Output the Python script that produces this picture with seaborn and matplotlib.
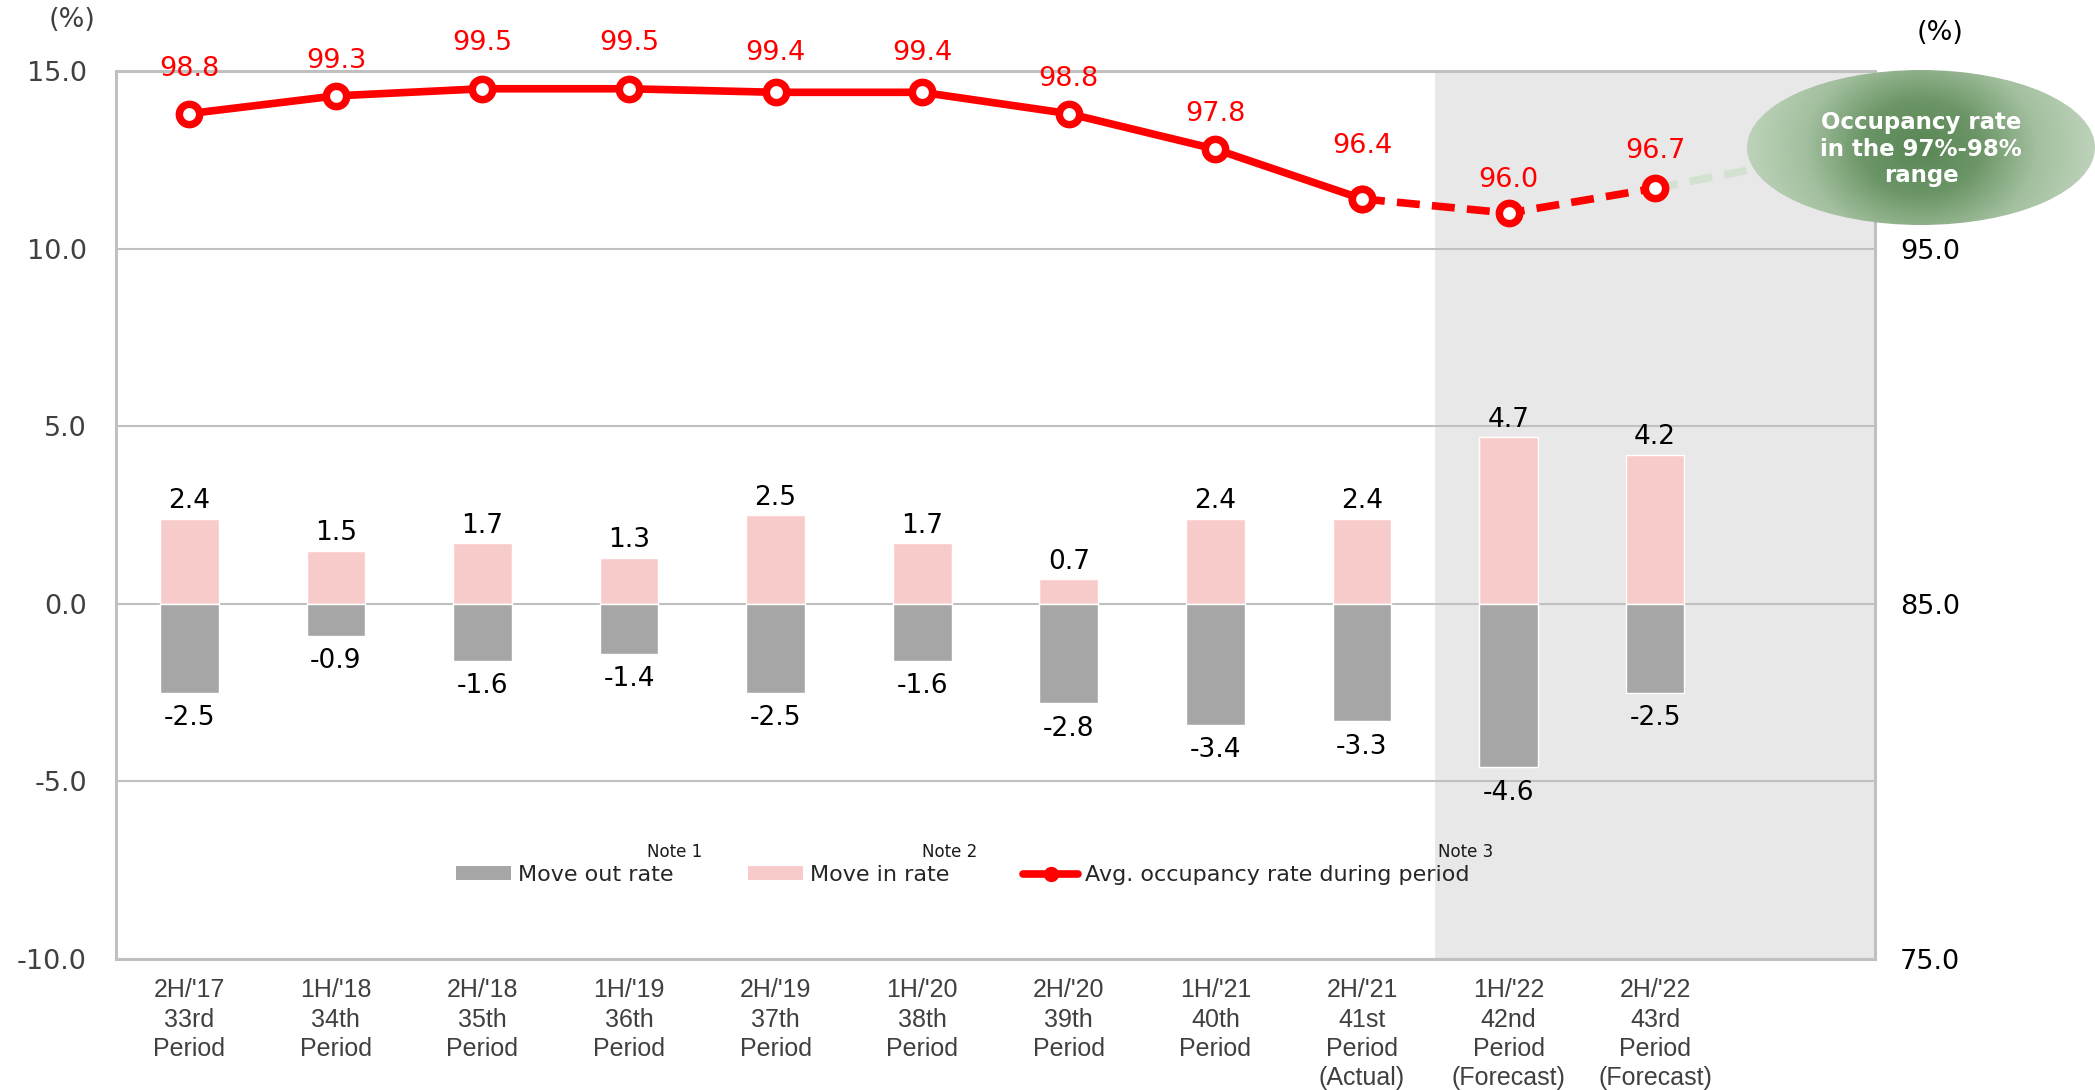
import numpy as np
import pandas as pd
import matplotlib
matplotlib.use('Agg')
import matplotlib.pyplot as plt
from matplotlib.patches import Ellipse, Patch
from matplotlib.lines import Line2D
from matplotlib.colors import LinearSegmentedColormap
import seaborn as sns

# ---------------- data ----------------
periods = ["2H/'17\n33rd\nPeriod", "1H/'18\n34th\nPeriod", "2H/'18\n35th\nPeriod",
           "1H/'19\n36th\nPeriod", "2H/'19\n37th\nPeriod", "1H/'20\n38th\nPeriod",
           "2H/'20\n39th\nPeriod", "1H/'21\n40th\nPeriod", "2H/'21\n41st\nPeriod\n(Actual)",
           "1H/'22\n42nd\nPeriod\n(Forecast)", "2H/'22\n43rd\nPeriod\n(Forecast)"]
move_in = [2.4, 1.5, 1.7, 1.3, 2.5, 1.7, 0.7, 2.4, 2.4, 4.7, 4.2]
move_out = [-2.5, -0.9, -1.6, -1.4, -2.5, -1.6, -2.8, -3.4, -3.3, -4.6, -2.5]
occupancy = [98.8, 99.3, 99.5, 99.5, 99.4, 99.4, 98.8, 97.8, 96.4, 96.0, 96.7]
target_rate = 97.5          # "97%-98% range" bubble
n_actual = 9                # periods up to 41st are actual
left_ticks = [-10, -5, 0, 5, 10, 15]
right_ticks = [75, 85, 95]
legend_labels = ["Move out rate", "Move in rate", "Avg. occupancy rate during period"]
note_labels = ["Note 1", "Note 2", "Note 3"]
bubble_text = "Occupancy rate\nin the 97%-98%\nrange"

# label placement (style): vertical offsets of occupancy labels, in points
label_offsets = [32, 25, 33, 33, 28, 28, 25, 25, 38, 24, 27]

# ---------------- style ----------------
sns.set_style('white')
plt.rcParams['font.family'] = ['DejaVu Sans']

RED = '#ff0000'
GRAY_BAR = '#a6a6a6'
PINK_BAR = '#f8cbcb'
GRID = '#c0c0c0'
SHADE = '#e8e8e8'

W, H = 2095, 1090
fig = plt.figure(figsize=(W / 100, H / 100), dpi=100)
ax = fig.add_axes([116 / W, 1 - 959 / H, (1875 - 116) / W, (959 - 71) / H])

df = pd.DataFrame({'period': periods, 'move_in': move_in, 'move_out': move_out,
                   'occ': occupancy})
df['x'] = np.arange(len(df))

sns.barplot(data=df, x='period', y='move_in', color=PINK_BAR, width=0.4, saturation=1,
            errorbar=None, ax=ax, zorder=2)
sns.barplot(data=df, x='period', y='move_out', color=GRAY_BAR, width=0.4, saturation=1,
            errorbar=None, ax=ax, zorder=2)

ax.axvspan(n_actual - 0.5, len(df) + 0.5, color=SHADE, lw=0, zorder=0)

ax.bar_label(ax.containers[0], fmt='%.1f', padding=3, fontsize=19, color='black')
ax.bar_label(ax.containers[1], fmt='%.1f', padding=9, fontsize=19, color='black')

ax.set_ylim(-10, 15)
ax.set_yticks(left_ticks)
ax.set_yticklabels([f'{t:.1f}' for t in left_ticks], fontsize=19.5, color='#404040')
ax.set_xlim(-0.5, len(df) + 0.5)
ax.set_xticks(np.arange(len(df)))
ax.set_xticklabels(periods, fontsize=18, color='#404040', family=['Liberation Sans', 'DejaVu Sans'],
                   linespacing=1.27, va='top')
ax.tick_params(axis='both', length=0)
ax.tick_params(axis='y', pad=21)
ax.tick_params(axis='x', pad=14)
ax.set_xlabel('')
ax.set_ylabel('')
ax.set_axisbelow(True)
ax.yaxis.grid(True, color=GRID, lw=1.5)
ax.xaxis.grid(False)
for s in ax.spines.values():
    s.set_visible(True)
    s.set_color(GRID)
    s.set_linewidth(2.2)

# ---------------- occupancy line (right axis) ----------------
ax2 = ax.twinx()
ax2.set_ylim(75, 100)
for s in ax2.spines.values():
    s.set_visible(False)

# connector to the bubble
conn = pd.DataFrame({'x': [df['x'].iloc[-1], len(df)], 'occ': [occupancy[-1], target_rate]})
sns.lineplot(data=conn, x='x', y='occ', ax=ax2, color='#d3e1d0', lw=5.5,
             linestyle=(0, (3, 1.6)), zorder=2)

actual = df.iloc[:n_actual]
forecast = df.iloc[n_actual - 1:]
mk = dict(marker='o', markersize=14.6, markerfacecolor='white', markeredgecolor=RED,
          markeredgewidth=5.4)
sns.lineplot(data=forecast, x='x', y='occ', ax=ax2, color=RED, lw=5.5,
             linestyle=(0, (3, 1.6)), zorder=3, **mk)
sns.lineplot(data=actual, x='x', y='occ', ax=ax2, color=RED, lw=5.5, zorder=4, **mk)

for xv, v, off in zip(df['x'], occupancy, label_offsets):
    ax2.annotate(f'{v:.1f}', (xv, v), xytext=(0, off), textcoords='offset points',
                 ha='center', va='center', fontsize=19.5, color=RED)

ax2.set_yticks(right_ticks)
ax2.set_yticklabels([f'{t:.1f}' for t in right_ticks], fontsize=19.5, color='black')
ax2.tick_params(axis='y', length=0, pad=18)
ax2.set_ylabel('')
ax2.set_xlabel('')
ax2.grid(False)
ax.set_xlim(-0.5, len(df) + 0.5)

# ---------------- legend ----------------
handles = [Patch(facecolor=GRAY_BAR, edgecolor='none'),
           Patch(facecolor=PINK_BAR, edgecolor='none'),
           Line2D([0], [0], color=RED, lw=5.5, marker='o', markersize=9,
                  markerfacecolor=RED, markeredgecolor=RED, markeredgewidth=2)]
leg = ax.legend(handles, legend_labels, loc='center left',
                bbox_to_anchor=((456 - 116) / 1759, (959 - 875) / 888),
                ncol=3, frameon=False, borderpad=0, borderaxespad=0,
                handlelength=2.48, handleheight=0.55, handletextpad=0.3, columnspacing=3.35,
                prop={'size': 16})

for xp, txt in zip([675, 950, 1466], note_labels):
    fig.text(xp / W, 1 - 852 / H, txt, ha='center', va='center', fontsize=12,
             color='#1a1a1a')

# ---------------- unit labels ----------------
fig.text(72 / W, 1 - 20 / H, '(%)', ha='center', va='center', fontsize=19.5, color='#404040')
fig.text(1940 / W, 1 - 33 / H, '(%)', ha='center', va='center', fontsize=19.5, color='black')

# ---------------- bubble ----------------
ax3 = fig.add_axes([1747 / W, 1 - 225 / H, 348 / W, 155 / H])
ax3.set_xlim(0, 1)
ax3.set_ylim(0, 1)
ax3.axis('off')
g = 400
xx, yy = np.meshgrid(np.linspace(-1, 1, g), np.linspace(-1, 1, g))
r = np.clip(np.sqrt(xx ** 2 + (0.55 * yy) ** 2), 0, 1)
cmap = LinearSegmentedColormap.from_list('g', ['#5a8655', '#6b9566', '#a2bf9e', '#bdd2ba'])
im = ax3.imshow(r, cmap=cmap, extent=(0, 1, 0, 1), aspect='auto', vmin=0, vmax=1,
                interpolation='bilinear')
el = Ellipse((0.5, 0.5), 1, 1, transform=ax3.transAxes, facecolor='none', edgecolor='none')
ax3.add_patch(el)
im.set_clip_path(el)
ax3.text(0.5, 0.49, bubble_text, ha='center', va='center', fontsize=16.5, fontweight='bold',
         color='white', linespacing=1.2)

fig.savefig('out.png', dpi=100)
